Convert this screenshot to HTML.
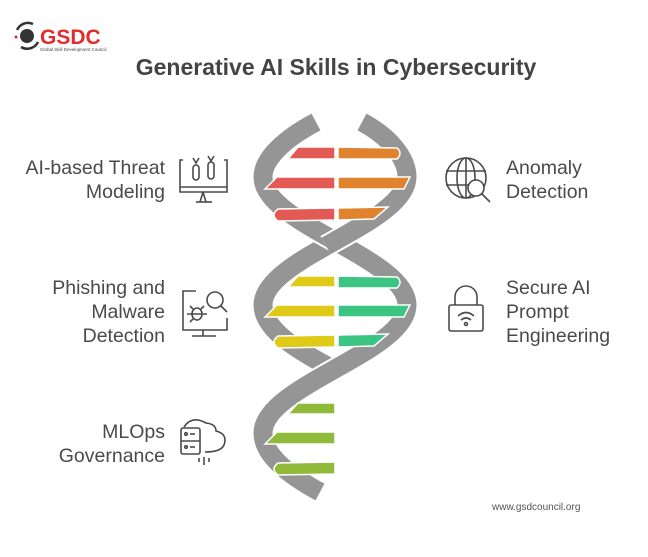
<!DOCTYPE html>
<html><head><meta charset="utf-8"><style>
html,body{margin:0;padding:0;background:#fff;}
body{width:648px;height:557px;position:relative;overflow:hidden;font-family:"Liberation Sans",sans-serif;}
.t{position:absolute;color:#4a4a4a;font-size:19.5px;line-height:24px;}
.l{text-align:right;}
</style></head><body>
<svg width="648" height="557" style="position:absolute;left:0;top:0">
<g>
<circle cx="27" cy="36" r="7" fill="#333"/>
<path d="M17 30 A12 12 0 0 1 33 24" stroke="#333" stroke-width="2.5" fill="none"/>
<path d="M21 47 A12 12 0 0 0 38 42" stroke="#333" stroke-width="2.5" fill="none"/>
<circle cx="16" cy="37" r="1.5" fill="#e32b2b"/>
<text x="40" y="44" font-family="Liberation Sans" font-weight="bold" font-size="21" fill="#e32b2b">GSDC</text>
<text x="40" y="51" font-family="Liberation Sans" font-size="4.5" fill="#444">Global Skill Development Council</text>
</g>
<text x="336" y="75" text-anchor="middle" font-family="Liberation Sans" font-weight="bold" font-size="23" fill="#444">Generative AI Skills in Cybersecurity</text>
<g fill="none">
<path d="M335,241 C299,261 263,281.5 263,305 C263,330 300,352 335,370" stroke="#fff" stroke-width="23"/>
<path d="M335,241 C299,261 263,281.5 263,305 C263,330 300,352 335,370" stroke="#959595" stroke-width="19"/>
<path d="M316,122 C282,140 263,160 263,177 C263,200.5 299,220.75 335,241" stroke="#fff" stroke-width="23"/>
<path d="M316,122 C282,140 263,160 263,177 C263,200.5 299,220.75 335,241" stroke="#959595" stroke-width="19"/>
<path d="M335,241 C371,261.25 407,281.5 407,305 C407,352 263,386 263,433 C263,455 290,476 320,492" stroke="#fff" stroke-width="23"/>
<path d="M335,241 C371,261.25 407,281.5 407,305 C407,352 263,386 263,433 C263,455 290,476 320,492" stroke="#959595" stroke-width="19"/>
<path d="M362,122 C392,138 407,160 407,177 C407,200.5 371,220.75 335,241 L326,246" stroke="#fff" stroke-width="23"/>
<path d="M362,122 C392,138 407,160 407,177 C407,200.5 371,220.75 335,241 L326,246" stroke="#959595" stroke-width="19"/>
</g>
<g stroke="#fff" stroke-width="1.5">
<path d="M298,147 L335,147 L335,159 L288,159 Z" fill="#e35a55"/>
<path d="M338,147 L397,148 Q403,153 397,159 L338,159 Z" fill="#e0822e"/>
<path d="M277,177 L335,177 L335,189 L265,189 Z" fill="#e35a55"/>
<path d="M338,177 L410,177 L404,189 L338,189 Z" fill="#e0822e"/>
<path d="M278,209 L335,208 L335,220 L278,221 Q270,215 278,209 Z" fill="#e35a55"/>
<path d="M338,208 L388,207 L374,219 L338,220 Z" fill="#e0822e"/>
<path d="M298,276 L335,276 L335,287 L288,287 Z" fill="#dfca18"/>
<path d="M338,276 L397,277 Q403,282 397,288 L338,288 Z" fill="#3cc483"/>
<path d="M277,305 L335,305 L335,317 L265,317 Z" fill="#dfca18"/>
<path d="M338,305 L410,305 L404,317 L338,317 Z" fill="#3cc483"/>
<path d="M278,336 L335,335 L335,347 L278,348 Q270,342 278,336 Z" fill="#dfca18"/>
<path d="M338,335 L388,334 L374,346 L338,347 Z" fill="#3cc483"/>
<path d="M298,403 L335,403 L335,414 L288,414 Z" fill="#8fba3a"/>
<path d="M277,432 L335,432 L335,444 L265,444 Z" fill="#8fba3a"/>
<path d="M278,463 L335,462 L335,474 L278,475 Q270,469 278,463 Z" fill="#8fba3a"/>
</g>
<g fill="none" stroke="#4a4a4a" stroke-width="1.6">
<path d="M183,160 L180,160 L180,192 L227,192 L227,160 L224,160"/><line x1="180" y1="187" x2="227" y2="187"/><line x1="203" y1="192" x2="200" y2="202"/><line x1="203" y1="192" x2="206" y2="202"/><line x1="196" y1="202" x2="212" y2="202"/>
<rect x="193" y="165" width="6" height="15" rx="3"/><rect x="208" y="162" width="6" height="17" rx="3"/>
<path d="M193,158 L196,163 L199,158"/><path d="M208,156 L211,161 L214,156"/>
<path d="M196,291 L183,291 L183,330 L227,330 L227,318"/><line x1="203" y1="330" x2="203" y2="336"/><line x1="192" y1="336" x2="216" y2="336"/>
<circle cx="215" cy="300" r="8"/><line x1="221" y1="306" x2="227" y2="312"/>
<ellipse cx="197" cy="314" rx="5" ry="6"/><line x1="187" y1="314" x2="207" y2="314"/><line x1="190" y1="306" x2="193" y2="309"/><line x1="190" y1="322" x2="193" y2="319"/><line x1="204" y1="306" x2="201" y2="309"/>
<rect x="181" y="428" width="19" height="26" rx="2"/><line x1="181" y1="441" x2="200" y2="441"/>
<circle cx="186" cy="434" r="1.3"/><circle cx="186" cy="447" r="1.3"/><line x1="190" y1="434" x2="195" y2="434"/><line x1="190" y1="447" x2="195" y2="447"/>
<path d="M184,427 Q192,415 206,423 Q216,424 216,431 Q228,434 224,445 Q221,452 205,452"/>
<line x1="199" y1="458" x2="199" y2="462"/><line x1="204" y1="457" x2="204" y2="465"/><line x1="209" y1="458" x2="209" y2="462"/>
<circle cx="466" cy="178" r="20"/><ellipse cx="466" cy="178" rx="9" ry="20"/><line x1="446" y1="171" x2="486" y2="171"/><line x1="446" y1="185" x2="470" y2="185"/><line x1="466" y1="158" x2="466" y2="198"/>
<circle cx="476" cy="188" r="8" fill="#fff"/><line x1="482" y1="194" x2="490" y2="202"/>
<path d="M455,305 L455,297 A11,11 0 0 1 477,297 L477,305"/><rect x="449" y="305" width="34" height="26" rx="2"/>
<path d="M458,316 Q466,309 474,316"/><path d="M461,320 Q466,316 471,320"/><circle cx="466" cy="324" r="1.5"/>
</g>
</svg>
<div class="t l" style="right:483px;top:156px;">AI-based Threat<br>Modeling</div>
<div class="t l" style="right:483px;top:276px;">Phishing and<br>Malware<br>Detection</div>
<div class="t l" style="right:483px;top:420px;">MLOps<br>Governance</div>
<div class="t" style="left:506px;top:156px;">Anomaly<br>Detection</div>
<div class="t" style="left:506px;top:276px;">Secure AI<br>Prompt<br>Engineering</div>
<div class="t" style="left:492px;top:501px;font-size:10px;line-height:14px;color:#555;">www.gsdcouncil.org</div>
</body></html>
